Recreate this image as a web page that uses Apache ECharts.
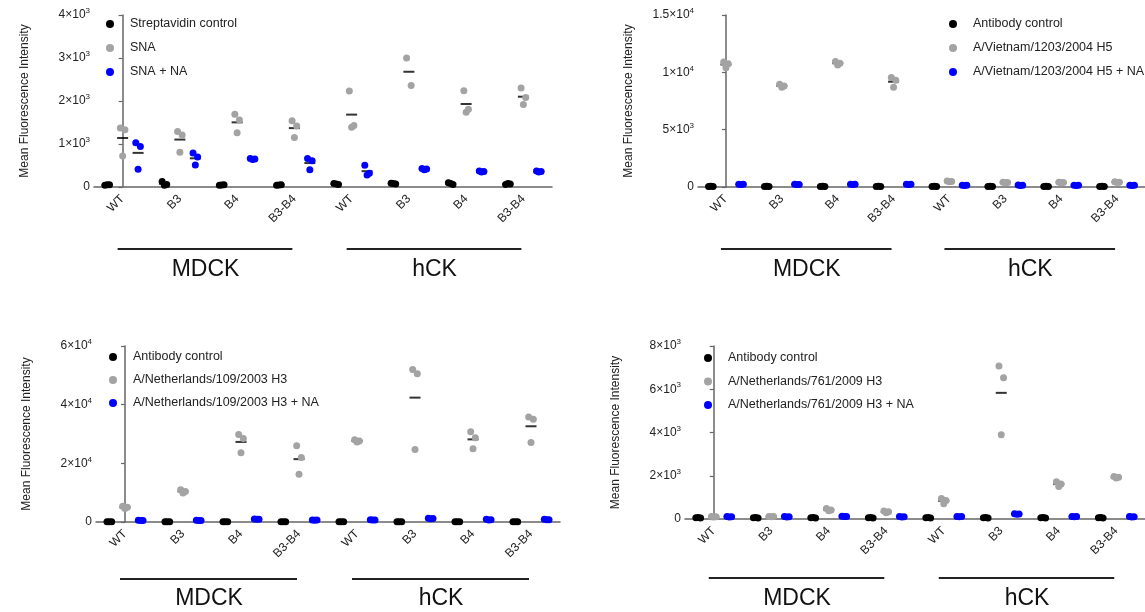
<!DOCTYPE html>
<html>
<head>
<meta charset="utf-8">
<script src="https://cdn.jsdelivr.net/npm/echarts@6/dist/echarts.min.js"></script>
<style>
  html, body { margin: 0; padding: 0; background: #fff; }
  #main { width: 1145px; height: 612px; }
</style>
</head>
<body>
<div id="main"></div>
<script>
// categories
const groups = ['WT', 'B3', 'B4', 'B3-B4', 'WT', 'B3', 'B4', 'B3-B4'];
const cellLines = ['MDCK', 'hCK'];

// panel A: SNA lectin
const snaNames = ['Streptavidin control', 'SNA', 'SNA + NA'];
const snaCtrl = [[40, 50, 55], [130, 60, 40], [40, 50, 45], [40, 50, 45], [80, 60, 70], [90, 70, 80], [100, 60, 80], [60, 70, 80]];
const sna = [[1370, 1330, 720], [1290, 1210, 810], [1690, 1560, 1260], [1540, 1420, 1150], [2230, 1430, 1390], [3000, 2360], [2240, 1810, 1740], [2300, 2080, 1920]];
const snaNA = [[1030, 940, 410], [790, 700, 510], [660, 650, 640], [660, 610, 400], [505, 320, 280], [430, 420, 400], [370, 360, 350], [370, 360, 350]];

// panel B: H5
const h5Names = ['Antibody control', 'A/Vietnam/1203/2004 H5', 'A/Vietnam/1203/2004 H5 + NA'];
const h5Ctrl = [[50, 40, 60], [50, 40, 60], [50, 40, 60], [50, 40, 60], [50, 40, 60], [50, 40, 60], [50, 40, 60], [50, 40, 60]];
const h5 = [[10900, 10750, 10400], [8950, 8800, 8700], [10950, 10800, 10650], [9550, 9300, 8700], [520, 480, 450], [420, 400, 380], [420, 400, 380], [450, 420, 400]];
const h5NA = [[250, 230, 220], [240, 220, 210], [250, 230, 220], [240, 230, 210], [160, 150, 140], [170, 150, 140], [160, 150, 140], [160, 150, 140]];

// panel C: H3 2003
const h3aNames = ['Antibody control', 'A/Netherlands/109/2003 H3', 'A/Netherlands/109/2003 H3 + NA'];
const h3aCtrl = [[100, 80, 120], [100, 80, 120], [100, 80, 120], [100, 80, 120], [100, 80, 120], [100, 80, 120], [100, 80, 120], [100, 80, 120]];
const h3a = [[5400, 5000, 4600], [11000, 10400, 9900], [29800, 28500, 23600], [26000, 22000, 16300], [28000, 27600, 27300], [52000, 50500, 24700], [30800, 28700, 25000], [35800, 35000, 27100]];
const h3aNA = [[600, 550, 500], [600, 550, 500], [1000, 950, 900], [700, 650, 600], [800, 700, 650], [1300, 1200, 1100], [900, 800, 700], [900, 800, 750]];

// panel D: H3 2009
const h3bNames = ['Antibody control', 'A/Netherlands/761/2009 H3', 'A/Netherlands/761/2009 H3 + NA'];
const h3bCtrl = [[60, 50, 70], [60, 50, 70], [60, 50, 70], [60, 50, 70], [60, 50, 70], [60, 50, 70], [60, 50, 70], [60, 50, 70]];
const h3b = [[120, 100, 90], [120, 110, 100], [480, 420, 380], [370, 330, 290], [950, 850, 700], [7070, 6530, 3900], [1720, 1620, 1500], [1960, 1930, 1900]];
const h3bNA = [[110, 100, 90], [110, 100, 90], [130, 120, 110], [110, 100, 90], [120, 110, 100], [240, 230, 220], [120, 110, 100], [110, 100, 90]];

// y axis ranges
const yMax = [4000, 15000, 60000, 8000];
const yStep = [1000, 5000, 20000, 2000];

const FONT = 'Liberation Sans, Arial, sans-serif';
const COLORS = ['#000000', '#a3a3a3', '#0000ff'];
const OFFSETS = [-0.27, 0, 0.27];
// small side-by-side spread of replicates, like the original dot plot
const SPREAD = [-0.04, 0.04, 0];

// grid layout per panel
const grids = [
    {left: 94, top: 15, width: 458, height: 172},
    {left: 698, top: 15, width: 458, height: 172},
    {left: 96, top: 346, width: 464, height: 176},
    {left: 685, top: 346, width: 466, height: 173}
];
const legendPos = [
    {left: 101, top: 12, gap: 10},
    {left: 944, top: 12, gap: 10},
    {left: 104, top: 345, gap: 9},
    {left: 699, top: 346, gap: 9.5}
];
// bracket line / label distance below the axis
const bracketOff = [[62, 83], [62, 83], [57, 77], [59, 80]];

const panels = [
    {names: snaNames, sets: [snaCtrl, sna, snaNA]},
    {names: h5Names, sets: [h5Ctrl, h5, h5NA]},
    {names: h3aNames, sets: [h3aCtrl, h3a, h3aNA]},
    {names: h3bNames, sets: [h3bCtrl, h3b, h3bNA]}
];

function sciLabel(v) {
    if (v === 0) return '0';
    let e = Math.floor(Math.log10(v) + 1e-9);
    let m = Math.round(v / Math.pow(10, e) * 10) / 10;
    return m + '×10{sup|' + e + '}';
}

let option = {
    animation: false,
    textStyle: {fontFamily: FONT},
    grid: [],
    xAxis: [],
    yAxis: [],
    legend: [],
    series: []
};

panels.forEach(function (p, i) {
    option.grid.push(grids[i]);
    // visible category axis
    option.xAxis.push({
        type: 'category',
        gridIndex: i,
        data: groups,
        axisLine: {lineStyle: {color: '#666', width: 1.5}},
        axisTick: {alignWithLabel: true, length: 5, lineStyle: {color: '#666', width: 1.2}},
        axisLabel: {rotate: 45, fontSize: 12, color: '#222', margin: 10, fontFamily: FONT, interval: 0},
        splitLine: {show: false}
    });
    option.yAxis.push({
        type: 'value',
        gridIndex: i,
        min: 0,
        max: yMax[i],
        interval: yStep[i],
        name: 'Mean Fluorescence Intensity',
        nameLocation: 'middle',
        nameGap: 63,
        nameTextStyle: {fontSize: 12, color: '#222', fontFamily: FONT},
        axisLine: {show: true, lineStyle: {color: '#666', width: 1.5}},
        axisTick: {show: true, length: 4, lineStyle: {color: '#666', width: 1.2}},
        axisLabel: {
            fontSize: 12, color: '#222', margin: 4, fontFamily: FONT,
            formatter: sciLabel,
            rich: {sup: {fontSize: 8, padding: [0, 0, 8, 0], color: '#222', fontFamily: FONT}}
        },
        splitLine: {show: false}
    });
    option.legend.push({
        data: p.names,
        orient: 'vertical',
        left: legendPos[i].left,
        top: legendPos[i].top,
        icon: 'circle',
        itemWidth: 30,
        itemHeight: 8,
        itemGap: legendPos[i].gap,
        selectedMode: false,
        textStyle: {fontSize: 12.5, color: '#222', fontFamily: FONT, lineHeight: 14}
    });
});

// hidden value x axes that carry the dots
panels.forEach(function (p, i) {
    option.xAxis.push({
        type: 'value', gridIndex: i, min: -0.5, max: groups.length - 0.5, show: false
    });
});

panels.forEach(function (p, i) {
    p.sets.forEach(function (set, s) {
        let dots = [];
        let means = [];
        set.forEach(function (vals, g) {
            let x = g + OFFSETS[s];
            let sum = 0;
            vals.forEach(function (v, r) {
                dots.push([x + SPREAD[r], v]);
                sum += v;
            });
            means.push([x, sum / vals.length]);
        });
        option.series.push({
            name: p.names[s],
            type: 'scatter',
            xAxisIndex: panels.length + i,
            yAxisIndex: i,
            data: dots,
            symbol: 'circle',
            symbolSize: 7,
            itemStyle: {color: COLORS[s], opacity: 1},
            z: 3
        });
        option.series.push({
            type: 'scatter',
            xAxisIndex: panels.length + i,
            yAxisIndex: i,
            data: means,
            symbol: 'rect',
            symbolSize: [11, 2],
            itemStyle: {color: '#000'},
            z: 2,
            silent: true
        });
    });
});

let myChart = echarts.init(document.getElementById('main'));
myChart.setOption(option);

// group brackets under the axes
let graphics = [];
panels.forEach(function (p, i) {
    let yAxisPx = grids[i].top + grids[i].height;
    cellLines.forEach(function (name, c) {
        let first = myChart.convertToPixel({xAxisIndex: i}, c * 4);
        let last = myChart.convertToPixel({xAxisIndex: i}, c * 4 + 3);
        let y = yAxisPx + bracketOff[i][0];
        graphics.push({
            type: 'line',
            shape: {x1: first - 5, y1: y, x2: last - 2, y2: y},
            style: {stroke: '#222', lineWidth: 2}
        });
        graphics.push({
            type: 'text',
            x: (first + last) / 2 - 3,
            y: yAxisPx + bracketOff[i][1],
            style: {text: name, fontSize: 23, fill: '#111', fontFamily: FONT, align: 'center', verticalAlign: 'middle'}
        });
    });
});
myChart.setOption({graphic: graphics});
</script>
</body>
</html>
